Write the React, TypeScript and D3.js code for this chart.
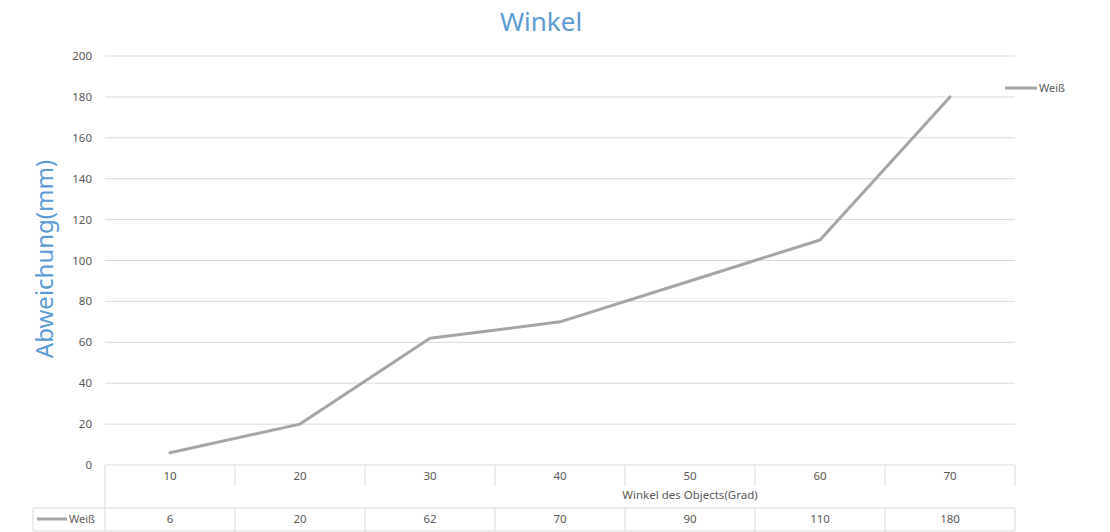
import React from "react";
import * as d3 from "d3";

const categories = ["10", "20", "30", "40", "50", "60", "70"];
const weissValues = [6, 20, 62, 70, 90, 110, 180];
const yTicks = [0, 20, 40, 60, 80, 100, 120, 140, 160, 180, 200];
const seriesName = "Weiß";

export default function App() {
  const W = 1110, H = 532;
  const left = 105, right = 1015, top = 56, bottom = 465;
  const x = d3.scaleBand<string>().domain(categories).range([left, right]).padding(0);
  const y = d3.scaleLinear().domain([0, 200]).range([bottom, top]);
  const line = d3.line<number>()
    .x((_, i) => (x(categories[i]) as number) + x.bandwidth() / 2)
    .y((d) => y(d));
  const font = "'Noto Sans', 'Open Sans', sans-serif";
  const grid = "#d9d9d9";
  const txt = "#595959";
  const lineColor = "#a5a5a5";
  const row1Bottom = 486, row2Top = 508, row2Bottom = 531, tableLeft = 33;
  return (
    <svg width={W} height={H} style={{ position: "absolute", left: 0, top: 0, background: "#fff" }} fontFamily={font}>
      <text x={541} y={31} textAnchor="middle" fontSize={26} fill="#5b9bd5">Winkel</text>
      <text transform={`translate(53,${259}) rotate(-90)`} textAnchor="middle" fontSize={24} fill="#5b9bd5">Abweichung(mm)</text>
      {yTicks.map((t) => (
        <g key={t}>
          {t !== 0 && <line x1={left} x2={right} y1={y(t)} y2={y(t)} stroke={grid} strokeWidth={1} />}
          <text x={92} y={y(t) + 4} textAnchor="end" fontSize={11.5} fill={txt}>{t}</text>
        </g>
      ))}
      {/* table lines */}
      <line x1={left} x2={right} y1={bottom} y2={bottom} stroke={grid} />
      <line x1={left} x2={left} y1={bottom} y2={row2Bottom} stroke={grid} />
      <line x1={right} x2={right} y1={bottom} y2={row1Bottom} stroke={grid} />
      <line x1={right} x2={right} y1={row2Top} y2={row2Bottom} stroke={grid} />
      <line x1={tableLeft} x2={right} y1={row2Top} y2={row2Top} stroke={grid} />
      <line x1={tableLeft} x2={right} y1={row2Bottom} y2={row2Bottom} stroke={grid} />
      <line x1={tableLeft} x2={tableLeft} y1={row2Top} y2={row2Bottom} stroke={grid} />
      {categories.map((c, i) => {
        const x0 = x(c) as number;
        const cx = x0 + x.bandwidth() / 2;
        return (
          <g key={c}>
            {i > 0 && <line x1={x0} x2={x0} y1={bottom} y2={row1Bottom} stroke={grid} />}
            {i > 0 && <line x1={x0} x2={x0} y1={row2Top} y2={row2Bottom} stroke={grid} />}
            <text x={cx} y={480} textAnchor="middle" fontSize={11.5} fill={txt}>{c}</text>
            <text x={cx} y={523} textAnchor="middle" fontSize={11.5} fill={txt}>{weissValues[i]}</text>
          </g>
        );
      })}
      <text x={690} y={499} textAnchor="middle" fontSize={11.5} fill={txt}>Winkel des Objects(Grad)</text>
      <line x1={37} x2={67} y1={519} y2={519} stroke={lineColor} strokeWidth={3} />
      <text x={69} y={523} fontSize={11} fill={txt}>{seriesName}</text>
      <path d={line(weissValues) || ""} fill="none" stroke={lineColor} strokeWidth={3} strokeLinejoin="round" strokeLinecap="round" />
      <line x1={1005} x2={1037} y1={88} y2={88} stroke={lineColor} strokeWidth={3} />
      <text x={1039} y={92} fontSize={11} fill={txt}>{seriesName}</text>
    </svg>
  );
}
